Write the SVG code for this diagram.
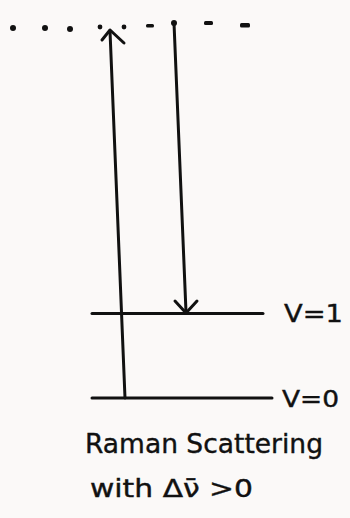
<svg xmlns="http://www.w3.org/2000/svg" width="350" height="518" viewBox="0 0 350 518">
<style>
.ln{stroke:#111;stroke-width:3;fill:none;stroke-linecap:round;stroke-linejoin:round}
.lbl{font-family:"DejaVu Sans","Liberation Sans",sans-serif;fill:#111;stroke:#111;stroke-width:0.4}
.dot{fill:#111}
</style>
<rect width="350" height="518" fill="#fbf9f8"/>
<g id="virtual-level">
<circle class="dot" cx="13" cy="28" r="3"/>
<circle class="dot" cx="45" cy="28" r="3"/>
<circle class="dot" cx="70" cy="29" r="3"/>
<circle class="dot" cx="100" cy="27" r="2.4"/>
<circle class="dot" cx="124" cy="27" r="2.4"/>
<rect class="dot" x="146" y="24" width="8" height="3.5" rx="1.5"/>
<circle class="dot" cx="174" cy="23" r="3"/>
<rect class="dot" x="204" y="21" width="9" height="4" rx="1.5"/>
<rect class="dot" x="240" y="23" width="10" height="4.5" rx="1.5"/>
</g>
<g id="level-v1">
<line class="ln" x1="92" y1="313.5" x2="263" y2="313.5"/>
<text class="lbl" x="284" y="322" font-size="24" textLength="59" lengthAdjust="spacingAndGlyphs">V=1</text>
</g>
<g id="level-v0">
<line class="ln" x1="92" y1="398" x2="272" y2="398"/>
<text class="lbl" x="282" y="407" font-size="23" textLength="57" lengthAdjust="spacingAndGlyphs">V=0</text>
</g>
<g id="connectors">
<path class="ln" d="M125,398 L110,31"/>
<path class="ln" d="M102,40 L110,30 L124,43"/>
<path class="ln" d="M174,23 L186,312"/>
<path class="ln" d="M175,301 L186,313 L197,301"/>
</g>
<g id="caption">
<text class="lbl" x="85" y="453" font-size="27" textLength="238" lengthAdjust="spacingAndGlyphs">Raman Scattering</text>
<text class="lbl" x="90" y="497" font-size="25" textLength="163" lengthAdjust="spacingAndGlyphs">with Δν̄ &gt;0</text>
</g>
</svg>
